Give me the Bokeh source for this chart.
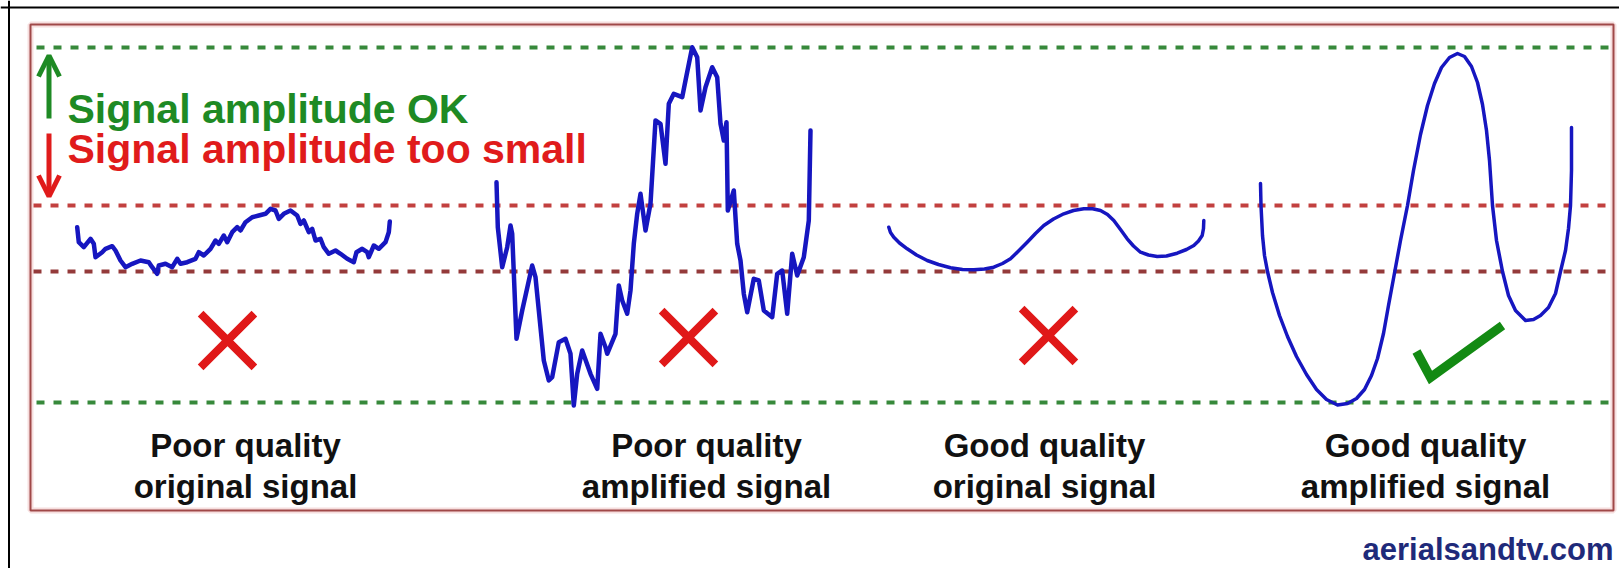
from bokeh.plotting import figure
from bokeh.models import Range1d, Span, Arrow, OpenHead
from bokeh.core.properties import value
from bokeh.embed import file_html
from bokeh.resources import INLINE

# ---------------- data (page-pixel coordinates, y measured from top) ----------------
# Poor quality original signal
sig1_x = [76.7, 78.3, 83.3, 90, 93.3, 95, 101.7, 105, 111.7, 115, 120, 125, 131.7, 140, 148.3,
          151.7, 156.7, 158.3, 165, 171.7, 176.7, 180, 186.7, 195, 198.3, 203.3, 210, 215, 218.3,
          223.3, 226.7, 231.7, 236.7, 240, 245, 251.7, 258.3, 265, 270, 275, 278.3, 283.3, 290,
          296.7, 300, 303.3, 308.3, 311.7, 315, 320, 323.3, 328.3, 335, 340, 346.7, 353.3, 356,
          361.7, 366.7, 368.3, 373.3, 378.3, 385, 388.3, 389.3]
sig1_y = [226.7, 241.7, 246.7, 238.3, 243.3, 256.7, 251.7, 248.3, 245.7, 250, 260, 266.7, 263.3,
          260, 261.7, 266.7, 273.3, 265, 263.3, 266.7, 258.3, 263.3, 261.7, 258.3, 251.7, 255,
          248.3, 240, 243.3, 235, 241.7, 231.7, 226.7, 230, 221.7, 216.7, 215, 213.3, 208.3, 210,
          218.3, 213.3, 210, 215, 223.3, 220, 231.7, 228.3, 240, 238.3, 246.7, 253.3, 250, 253.3,
          258.3, 261.7, 251.7, 248.3, 251.7, 256.7, 245, 248.3, 241.7, 231.7, 221]

# Poor quality amplified signal
sig2_x = [496, 497.3, 501.7, 506.7, 510, 511.7, 516, 521.7, 531.7, 535, 543.3, 548.3, 551.7, 558.3,
          565, 570, 573.3, 576.7, 581.7, 590, 596.7, 600, 605, 606.7, 615, 618.3, 621.7, 626.7,
          630, 633.3, 636.7, 640, 645, 650, 655, 660, 665, 668.3, 673.3, 681.7, 685, 691.7, 696.7,
          700, 705, 711.7, 716.7, 720, 723.3, 726, 727.3, 733.3, 736.7, 740, 743.3, 746.7, 753.3,
          758.3, 763.3, 771.7, 776.7, 781.7, 786.7, 791.7, 796.7, 803.3, 808.3, 810]
sig2_y = [181.7, 226.7, 266.7, 246.7, 225, 233.3, 338.3, 310, 265, 276.7, 360, 380, 376.7, 341.7,
          338.3, 353.3, 405, 373.3, 350, 373.3, 388.3, 333.3, 346.7, 353.3, 333.3, 285, 300, 313.3,
          290, 243.3, 213.3, 193.3, 230, 203, 120, 123.3, 163.3, 103.3, 93.3, 96.7, 80, 46.7, 56.7,
          110, 86.7, 66.7, 76.7, 123.3, 140, 121.7, 210, 190, 243.3, 260, 293.3, 311.7, 278.3, 280,
          310, 316.7, 273.3, 270, 313.3, 253.3, 275, 256.7, 220, 130]

# Good quality original signal
sig3_x = [888.3, 890, 893.3, 899, 906.7, 916, 926.7, 938, 950, 962, 973.3, 984, 993.3, 1002, 1010,
          1018, 1026.7, 1035, 1043.3, 1053, 1063.3, 1073, 1083.3, 1092, 1100, 1107, 1113.3, 1120,
          1126.7, 1133, 1140, 1148, 1156.7, 1166, 1176.7, 1186, 1193.3, 1198, 1201.7, 1203, 1203.3]
sig3_y = [226.7, 232, 236.7, 242.5, 248.3, 254.5, 260, 264, 267.3, 269, 269.3, 268.5, 266.7, 263,
          258.3, 250.5, 241.7, 233, 225, 218.5, 213.3, 210, 208.3, 208.3, 210, 214, 220, 229, 238.3,
          245.5, 251.7, 254.5, 256, 255.5, 252.7, 249, 245, 240.5, 235, 228, 220]

# Good quality amplified signal
sig4_x = [1260, 1260.5, 1262, 1264, 1267, 1272, 1279, 1287, 1296, 1306, 1316, 1326, 1337, 1347,
          1356, 1364, 1371, 1377, 1383, 1388, 1393, 1400, 1407, 1413, 1420, 1427, 1434, 1441, 1449,
          1457, 1464, 1471, 1477, 1482, 1486, 1489, 1492, 1496, 1502, 1508, 1515, 1525, 1533,
          1540, 1548, 1555, 1560, 1565, 1568, 1570, 1571, 1571]
sig4_y = [183, 205, 235, 255, 271, 292, 315, 336, 356, 374, 389, 399, 404.5, 403, 398, 389, 375,
          358, 333, 305, 278, 240, 205, 170, 134, 105, 83, 67, 57, 53, 56, 66, 82, 104, 130, 160,
          205, 240, 271, 295, 310, 320, 319, 315, 307, 293, 271, 250, 228, 205, 170, 127]

# Threshold levels (pixel rows)
ok_levels = [47, 402]          # green: signal amplitude OK
small_levels = [205, 271]      # red: signal amplitude too small
small_colors = ["#c2403f", "#943a3a"]

# Verdict marks
cross_x = [227, 688, 1048]
cross_y = [340, 337, 335]
tick_x = [1416, 1430, 1502]
tick_y = [351, 377, 325]

# Labels
label_x = [245, 706, 1044, 1425]
label_line1 = ["Poor quality", "Poor quality", "Good quality", "Good quality"]
label_line2 = ["original signal", "amplified signal", "original signal", "amplified signal"]

# ---------------- figure ----------------
p = figure(width=1619, height=568, x_range=Range1d(0, 1619), y_range=Range1d(568, 0),
           output_backend="svg", toolbar_location=None, min_border=0,
           x_axis_type=None, y_axis_type=None, outline_line_color=None,
           background_fill_color="white", border_fill_color="white")
p.grid.visible = False

FONT = value("Liberation Sans")

# outer black frame (top and left only visible)
p.add_layout(Span(location=8.5, dimension="height", line_color="black", line_width=2))
p.add_layout(Span(location=7, dimension="width", line_color="black", line_width=2))

# inner framed box with soft shadow
p.quad(left=[30], right=[1613], top=[24], bottom=[510], fill_color=None,
       line_color="#f0c8c8", line_width=6, line_alpha=0.6)
p.quad(left=[30], right=[1613], top=[24], bottom=[510], fill_color=None,
       line_color="#a04848", line_width=2)

# threshold dashed lines
p.segment(x0=[36] * len(ok_levels), x1=[1612] * len(ok_levels), y0=ok_levels, y1=ok_levels,
          line_color="#37893b", line_width=4, line_dash="8 9")
p.segment(x0=[33] * len(small_levels), x1=[1612] * len(small_levels), y0=small_levels,
          y1=small_levels, line_color=small_colors, line_width=4, line_dash="8 9")

# arrows
green = "#1e8a24"
red = "#e01b1b"
p.add_layout(Arrow(end=OpenHead(size=21, line_color=green, line_width=5),
                   x_start=48.5, y_start=118, x_end=48.5, y_end=55,
                   line_color=green, line_width=5))
p.add_layout(Arrow(end=OpenHead(size=21, line_color=red, line_width=5),
                   x_start=48.5, y_start=133, x_end=48.5, y_end=196,
                   line_color=red, line_width=5))

# headings
p.text(x=[67], y=[108], text=["Signal amplitude OK"], text_font=FONT, text_font_style="bold",
       text_font_size=value("41px"), text_color=green, text_baseline="alphabetic")
p.text(x=[67], y=[148], text=["Signal amplitude too small"], text_font=FONT,
       text_font_style="bold", text_font_size=value("41px"), text_color=red,
       text_baseline="alphabetic")

# signals
blue = "#1616c0"
for xs, ys, w in [(sig1_x, sig1_y, 4.5), (sig2_x, sig2_y, 4.5), (sig3_x, sig3_y, 3.5), (sig4_x, sig4_y, 3.5)]:
    p.line(xs, ys, line_color=blue, line_width=w, line_join="round", line_cap="round")

# verdict marks
p.scatter(x=cross_x, y=cross_y, marker="x", size=76, line_width=8, line_color="#e01818")
p.line(tick_x, tick_y, line_color="#138a13", line_width=9, line_join="miter")

# labels
p.text(x=label_x, y=[445] * 4, text=label_line1, text_font=FONT, text_font_style="bold",
       text_font_size=value("33px"), text_color="#111111", text_align="center",
       text_baseline="alphabetic")
p.text(x=label_x, y=[486] * 4, text=label_line2, text_font=FONT, text_font_style="bold",
       text_font_size=value("33px"), text_color="#111111", text_align="center",
       text_baseline="alphabetic")

# footer
p.text(x=[1613], y=[549], text=["aerialsandtv.com"], text_font=FONT, text_font_style="bold",
       text_font_size=value("31px"), text_color="#1f2a7a", text_align="right",
       text_baseline="alphabetic")

open("out.html", "w").write(file_html(p, INLINE))
